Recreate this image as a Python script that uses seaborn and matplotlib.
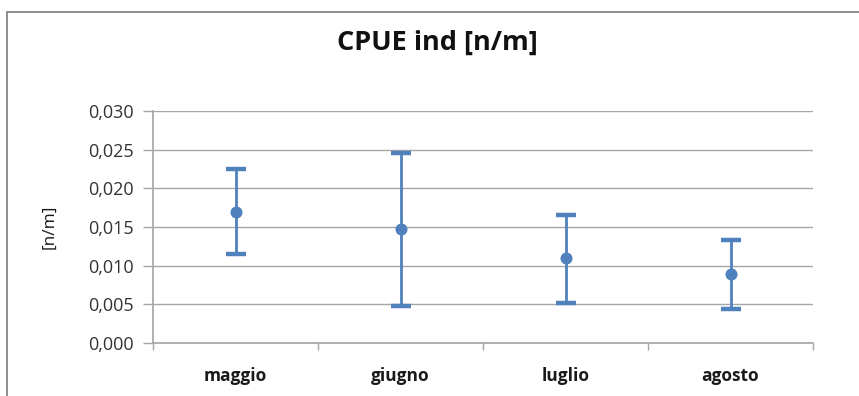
import matplotlib
matplotlib.use("Agg")
import matplotlib.pyplot as plt
from matplotlib.ticker import FuncFormatter, FixedLocator
from matplotlib.patches import Rectangle
import numpy as np
import pandas as pd
import seaborn as sns

# CPUE per month: mean with lower/upper bounds
months = ["maggio", "giugno", "luglio", "agosto"]
mean_vals = [0.0170, 0.0147, 0.0110, 0.0089]
low_vals = [0.0115, 0.0048, 0.0052, 0.0044]
high_vals = [0.0225, 0.0246, 0.0166, 0.0133]
y_ticks = [0.000, 0.005, 0.010, 0.015, 0.020, 0.025, 0.030]

df = pd.DataFrame({"mese": months, "cpue": mean_vals,
                   "low": low_vals, "high": high_vals})

sns.set_theme(style="white")
plt.rcParams["font.family"] = ["Open Sans", "DejaVu Sans"]

blue = "#4F81BD"
grid_c = "#A6A6A6"

fig = plt.figure(figsize=(8.59, 3.96), dpi=100)
ax = fig.add_axes([153 / 859, 53 / 396, 660 / 859, 232 / 396])

# outer chart frame
fig.patches.append(Rectangle((7 / 859, -0.05), 1.0, (384 / 396) + 0.05,
                             transform=fig.transFigure, fill=False,
                             edgecolor="#868686", linewidth=1.3))

x = np.arange(len(months))
yerr = np.array([df["cpue"] - df["low"], df["high"] - df["cpue"]])
ax.errorbar(x, df["cpue"], yerr=yerr, fmt="none", ecolor=blue,
            elinewidth=2.0, capsize=7.5, capthick=3.2, zorder=3)
sns.scatterplot(data=df.assign(pos=x), x="pos", y="cpue", ax=ax,
                color=blue, s=75, marker="o", edgecolor=blue,
                linewidth=0, zorder=4, legend=False)

ax.set_xlim(-0.5, len(months) - 0.5)
ax.set_ylim(0, 0.030)
ax.yaxis.set_major_locator(FixedLocator(y_ticks))
ax.yaxis.set_major_formatter(FuncFormatter(lambda v, p: f"{v:.3f}".replace(".", ",")))
ax.grid(axis="y", color=grid_c, linewidth=1.0)
ax.set_axisbelow(True)

ax.set_xticks(x)
ax.set_xticklabels(months, fontsize=12.5, fontweight="bold", color="#1a1a1a")
ax.set_xticks(np.arange(-0.5, len(months)), minor=True)
ax.tick_params(axis="x", which="major", length=0, pad=17)
ax.tick_params(axis="x", which="minor", length=5, color=grid_c, width=1.0,
               direction="out", bottom=True)
ax.tick_params(axis="y", length=7, color=grid_c, width=1.0, direction="out",
               left=True, labelsize=13, labelcolor="#333333", pad=7)

for side in ["top", "right"]:
    ax.spines[side].set_visible(False)
ax.spines["left"].set_color(grid_c)
ax.spines["bottom"].set_color(grid_c)

ax.set_xlabel("")
ax.set_ylabel("[n/m]", fontsize=12.5, color="#1a1a1a", labelpad=22)

fig.text(437 / 859, 1 - 43 / 396, "CPUE ind [n/m]", ha="center", va="center",
         fontsize=19.5, fontweight="bold", color="#111111")

fig.savefig("out.png", dpi=100)
